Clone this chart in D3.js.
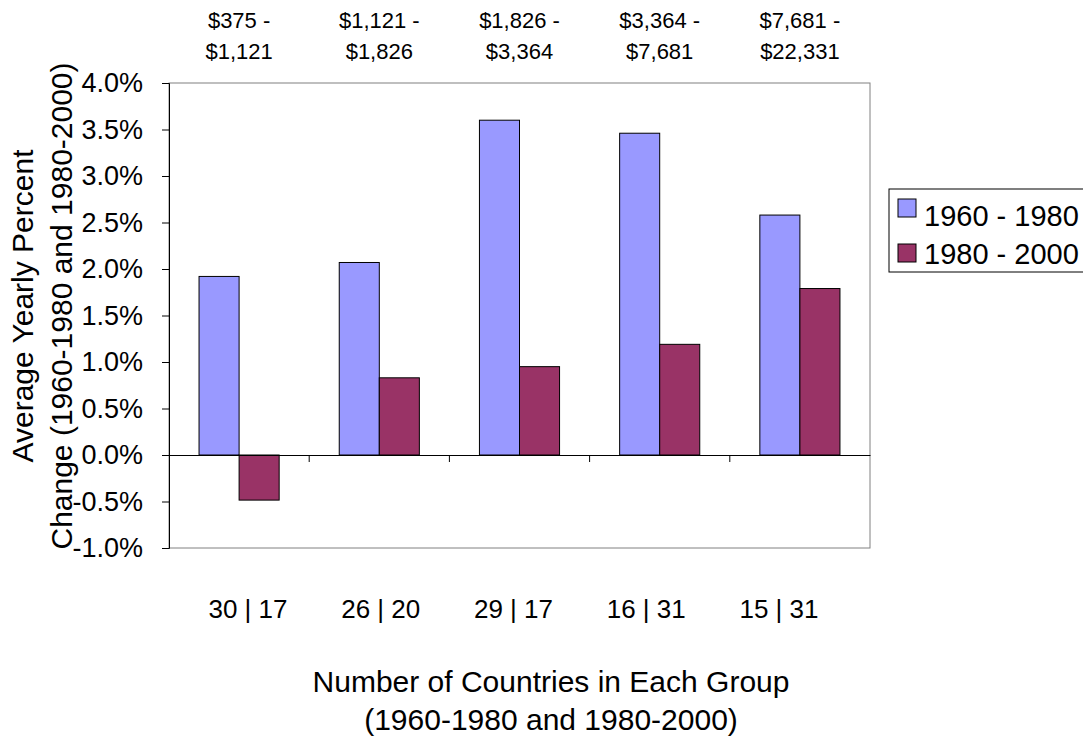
<!DOCTYPE html>
<html>
<head>
<meta charset="utf-8">
<script src="https://cdn.jsdelivr.net/npm/d3@7/dist/d3.min.js"></script>
<style>
  body { margin: 0; background: #fff; }
  svg { font-family: "Liberation Sans", Arial, sans-serif; }
</style>
</head>
<body>
<svg id="chart" width="1083" height="737"></svg>
<script>
// Chart data
const countLabels = ['30 | 17', '26 | 20', '29 | 17', '16 | 31', '15 | 31'];
const incomeFrom = ['$375 -', '$1,121 -', '$1,826 -', '$3,364 -', '$7,681 -'];
const incomeTo = ['$1,121', '$1,826', '$3,364', '$7,681', '$22,331'];
const seriesNames = ['1960 - 1980', '1980 - 2000'];
const growth6080 = [1.92, 2.07, 3.60, 3.46, 2.58];
const growth8000 = [-0.485, 0.83, 0.95, 1.19, 1.79];
const yTicks = [-1, -0.5, 0, 0.5, 1, 1.5, 2, 2.5, 3, 3.5, 4];
const colors = ['#9999ff', '#993366'];

const svg = d3.select('#chart');
const plot = { left: 169, right: 870, top: 83, bottom: 548 };

const x = d3.scaleBand()
  .domain(countLabels)
  .range([plot.left, plot.right])
  .paddingInner(0).paddingOuter(0);

// the count labels under the chart sit on their own, slightly tighter spacing
const xCount = d3.scalePoint()
  .domain(countLabels)
  .range([248, 779]);

const y = d3.scaleLinear()
  .domain([-1, 4])
  .range([plot.bottom, plot.top]);

// gap width 150%: 2 bars + 1.5 bar widths per category
const barW = x.bandwidth() / 3.5;
const series = [growth6080, growth8000];

// plot frame
svg.append('rect')
  .attr('x', plot.left).attr('y', plot.top)
  .attr('width', plot.right - plot.left).attr('height', plot.bottom - plot.top)
  .attr('fill', 'none').attr('stroke', '#808080').attr('stroke-width', 1);

// bars
series.forEach((vals, s) => {
  svg.append('g').selectAll('rect')
    .data(vals)
    .enter()
    .append('rect')
    .attr('x', (d, i) => x(countLabels[i]) + barW * 0.75 + s * barW)
    .attr('y', d => y(Math.max(0, d)))
    .attr('width', barW)
    .attr('height', d => Math.abs(y(d) - y(0)))
    .attr('fill', colors[s])
    .attr('stroke', '#000')
    .attr('stroke-width', 1);
});

// y axis
const yAxis = svg.append('g')
  .attr('transform', `translate(${plot.left},0)`)
  .call(d3.axisLeft(y).tickValues(yTicks).tickSize(7).tickPadding(19)
    .tickFormat(d => d.toFixed(1) + '%'));
yAxis.select('.domain').attr('stroke', '#000');
yAxis.selectAll('.tick line').attr('stroke', '#000');
yAxis.selectAll('text')
  .attr('font-size', 27).attr('fill', '#000')
  .attr('font-family', '"Liberation Sans", Arial, sans-serif');

// zero line with category ticks
const xAxis = svg.append('g')
  .attr('transform', `translate(0,${y(0)})`)
  .call(d3.axisBottom(x).tickSize(0).tickFormat(''));
xAxis.select('.domain').attr('stroke', '#000');
svg.append('g').selectAll('line')
  .data(countLabels.slice(1))
  .enter()
  .append('line')
  .attr('x1', d => x(d)).attr('x2', d => x(d))
  .attr('y1', y(0)).attr('y2', y(0) + 7)
  .attr('stroke', '#000');

// category labels below plot
svg.append('g').selectAll('text')
  .data(countLabels)
  .enter()
  .append('text')
  .attr('x', d => xCount(d))
  .attr('y', 618)
  .attr('text-anchor', 'middle')
  .attr('font-size', 26)
  .text(d => d);

// income ranges above plot
[incomeFrom, incomeTo].forEach((row, r) => {
  svg.append('g').selectAll('text')
    .data(row)
    .enter()
    .append('text')
    .attr('x', (d, i) => x(countLabels[i]) + x.bandwidth() / 2)
    .attr('y', 28 + r * 31)
    .attr('text-anchor', 'middle')
    .attr('font-size', 22)
    .text(d => d);
});

// x axis title
svg.append('text')
  .attr('x', 551).attr('y', 692)
  .attr('text-anchor', 'middle').attr('font-size', 30)
  .text('Number of Countries in Each Group');
svg.append('text')
  .attr('x', 551).attr('y', 730)
  .attr('text-anchor', 'middle').attr('font-size', 30)
  .text('(1960-1980 and 1980-2000)');

// y axis title
const yTitle = svg.append('g').attr('transform', 'translate(0,306) rotate(-90)');
yTitle.append('text')
  .attr('x', 0).attr('y', 33)
  .attr('text-anchor', 'middle').attr('font-size', 30)
  .text('Average Yearly Percent');
yTitle.append('text')
  .attr('x', 0).attr('y', 72)
  .attr('text-anchor', 'middle').attr('font-size', 30)
  .text('Change (1960-1980 and 1980-2000)');

// legend
const legend = svg.append('g').attr('transform', 'translate(889,189)');
legend.append('rect')
  .attr('x', 0).attr('y', 0)
  .attr('width', 220).attr('height', 83)
  .attr('fill', '#fff').attr('stroke', '#000');
seriesNames.forEach((name, i) => {
  legend.append('rect')
    .attr('x', 9).attr('y', 10 + i * 45)
    .attr('width', 18).attr('height', 18)
    .attr('fill', colors[i]).attr('stroke', '#000');
  legend.append('text')
    .attr('x', 35).attr('y', 37 + i * 38)
    .attr('font-size', 29)
    .text(name);
});
</script>
</body>
</html>
